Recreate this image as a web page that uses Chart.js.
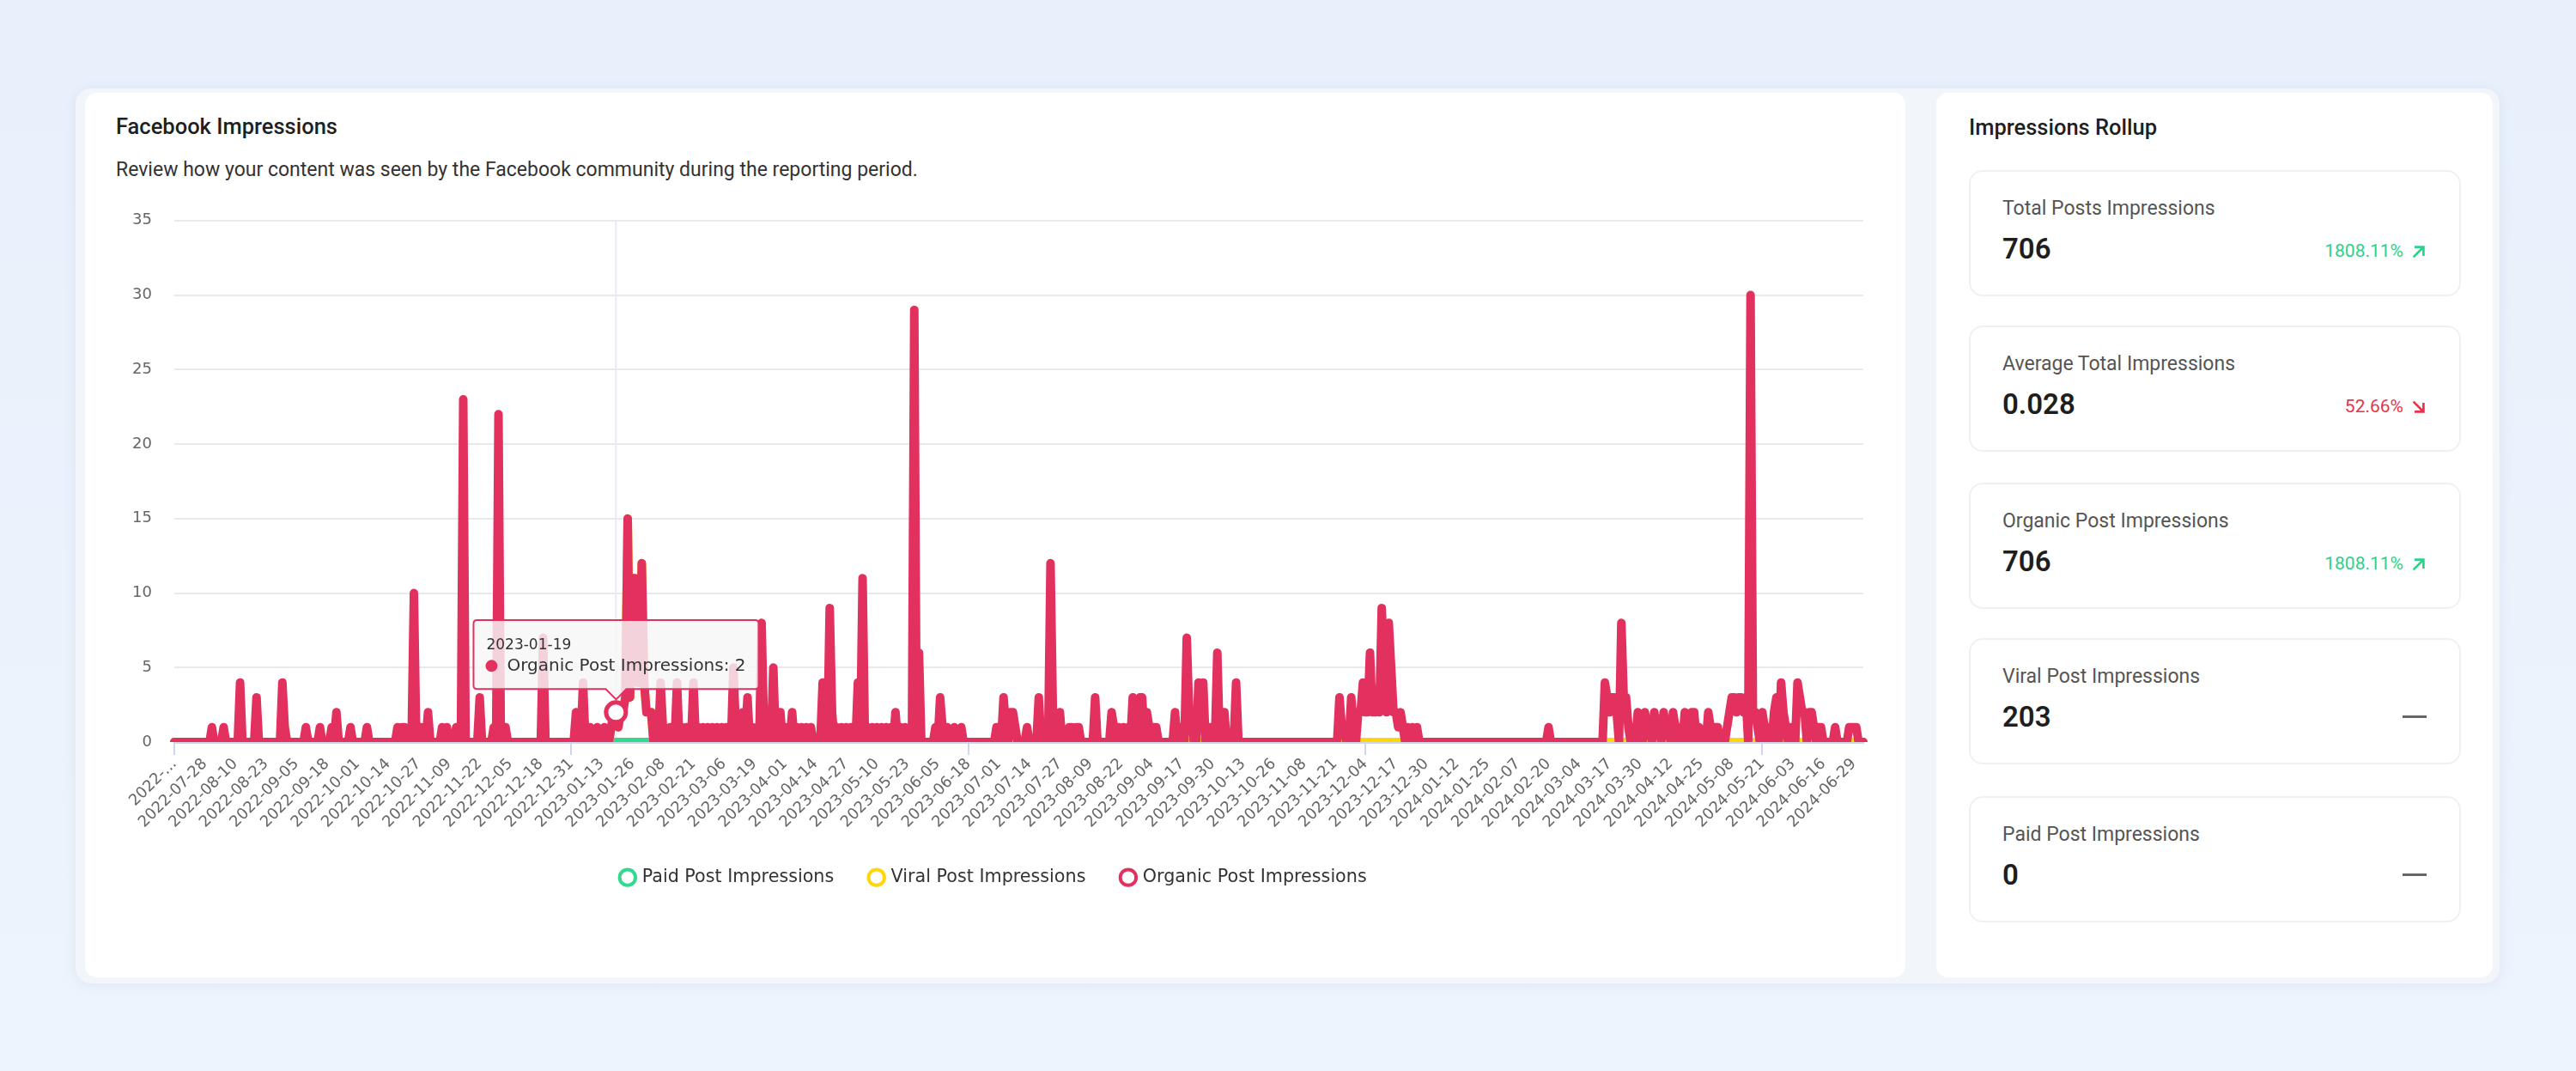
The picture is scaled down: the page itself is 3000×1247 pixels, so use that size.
<!DOCTYPE html>
<html>
<head>
<meta charset="utf-8">
<title>Facebook Impressions</title>
<script src="https://cdn.jsdelivr.net/npm/chart.js@4.4.1/dist/chart.umd.min.js"></script>
<style>
  html, body { margin: 0; padding: 0; }
  body {
    width: 3000px; height: 1247px; position: relative; overflow: hidden;
    background: linear-gradient(180deg, #e8f0fb 0%, #edf4fd 100%);
    font-family: Roboto, "Noto Sans", sans-serif;
  }
  .shell {
    position: absolute; left: 88px; top: 103px; width: 2823px; height: 1042px;
    background: #f2f6fb; border-radius: 18px;
    box-shadow: 0 2px 14px rgba(150, 170, 200, 0.18);
  }
  .card { position: absolute; background: #fff; border-radius: 14px; }
  #mainCard { left: 99px; top: 108px; width: 2120px; height: 1030px; }
  #rollupCard { left: 2255px; top: 108px; width: 648px; height: 1030px; }
  .heading {
    position: absolute; font-size: 25.5px; line-height: 25px; font-weight: 500;
    color: #1f1f1f; white-space: nowrap;
  }
  .subheading {
    position: absolute; left: 135px; top: 186px; font-size: 23px; line-height: 23px;
    color: #333; white-space: nowrap;
  }
  #chartBox { position: absolute; left: 141px; top: 220px; width: 2034px; height: 822px; }
  .stat {
    position: absolute; left: 2293px; width: 573px; height: 147px; box-sizing: border-box;
    border: 2px solid #edf1f6; border-radius: 16px; background: #fff;
  }
  .stat-label {
    position: absolute; left: 37px; top: 31px; font-size: 23px; line-height: 23px;
    color: #555; white-space: nowrap;
  }
  .stat-value {
    position: absolute; left: 37px; top: 73px; font-size: 33px; line-height: 33px;
    font-weight: 600; color: #1e1e1e;
  }
  .stat-change {
    position: absolute; right: 38px; top: 82px; font-size: 21px; line-height: 21px;
    white-space: nowrap; display: flex; align-items: center;
  }
  .stat-change svg { margin-left: 9px; }
  .up { color: #2fd08a; }
  .down { color: #e8344a; }
  .dash { position: absolute; right: 38px; top: 88px; width: 28px; height: 3px; background: #666; }
</style>
</head>
<body>
<div class="shell"></div>
<div class="card" id="mainCard"></div>
<div class="card" id="rollupCard"></div>

<div class="heading" style="left:135px; top:135px;">Facebook Impressions</div>
<div class="subheading">Review how your content was seen by the Facebook community during the reporting period.</div>
<div id="chartBox"><canvas id="impressionsChart"></canvas></div>

<div class="heading" style="left:2293px; top:136px;">Impressions Rollup</div>
<div id="statList"></div>

<script>
// --- Chart data ---

// one label per day, 2022-07-15 .. 2024-07-03
const firstDay = { year: 2022, month: 6, day: 15 };
const dayCount = 720;

// non-zero days only, as day offsets from 2022-07-15 (every other day is 0)
const organicDays = [
    16, 21, 28, 35, 46, 47, 56, 62, 67, 69, 75, 82, 95, 97, 98, 102, 105, 108, 114, 116,
    120, 123, 130, 136, 138, 141, 157, 171, 174, 177, 180, 183, 186, 187, 188, 189, 190, 191, 192, 193,
    194, 195, 196, 197, 198, 199, 200, 201, 202, 203, 207, 208, 211, 214, 216, 218, 221, 223, 225, 227,
    229, 231, 233, 235, 238, 239, 241, 242, 244, 246, 248, 250, 251, 253, 255, 257, 258, 260, 263, 265,
    267, 269, 271, 276, 279, 280, 282, 284, 286, 288, 291, 293, 295, 297, 299, 301, 303, 305, 307, 309,
    311, 313, 315, 317, 324, 326, 327, 329, 332, 335, 350, 351, 353, 354, 356, 357, 358, 363, 368, 373,
    374, 377, 381, 382, 384, 385, 392, 399, 400, 402, 404, 406, 408, 409, 411, 412, 414, 415, 417, 418,
    426, 428, 431, 432, 433, 436, 437, 438, 441, 444, 446, 447, 452, 496, 497, 498, 501, 502, 504, 505,
    506, 507, 508, 509, 510, 511, 512, 513, 514, 515, 516, 517, 518, 519, 520, 521, 522, 523, 525, 527,
    529, 585, 609, 610, 611, 612, 613, 614, 616, 617, 618, 619, 621, 623, 624, 626, 627, 628, 630, 631,
    632, 634, 635, 636, 638, 639, 641, 643, 644, 646, 647, 649, 653, 654, 656, 657, 661, 662, 663, 664,
    665, 666, 667, 668, 669, 671, 672, 673, 674, 676, 677, 679, 681, 682, 684, 685, 686, 688, 691, 692,
    693, 694, 696, 697, 698, 700, 701, 707, 713, 714, 715, 716
];
const organicValues = [
    1, 1, 4, 3, 4, 1, 1, 1, 1, 2, 1, 1, 1, 1, 1, 10, 1, 2, 1, 1,
    1, 23, 3, 1, 22, 1, 7, 2, 4, 1, 1, 1, 1, 2, 2, 1, 2, 2, 3, 15,
    3, 11, 11, 4, 4, 12, 4, 2, 2, 2, 4, 1, 1, 4, 1, 1, 4, 1, 1, 1,
    1, 1, 1, 1, 5, 1, 1, 2, 3, 1, 1, 8, 1, 1, 5, 2, 2, 1, 2, 1,
    1, 1, 1, 4, 9, 2, 1, 1, 1, 1, 4, 11, 1, 1, 1, 1, 1, 1, 2, 1,
    1, 1, 29, 6, 1, 3, 1, 1, 1, 1, 1, 1, 3, 1, 2, 2, 1, 1, 3, 12,
    2, 2, 1, 1, 1, 1, 3, 2, 1, 1, 1, 1, 3, 1, 3, 3, 2, 1, 1, 1,
    2, 1, 7, 2, 2, 4, 1, 4, 1, 6, 2, 2, 4, 3, 1, 1, 3, 1, 2, 2,
    4, 2, 2, 6, 2, 2, 3, 2, 9, 5, 2, 8, 5, 2, 2, 1, 2, 1, 1, 1,
    1, 1, 4, 3, 2, 3, 3, 2, 8, 3, 3, 1, 1, 2, 1, 2, 1, 1, 2, 1,
    1, 2, 1, 1, 2, 1, 1, 2, 1, 2, 2, 1, 2, 1, 1, 1, 1, 2, 3, 3,
    2, 3, 3, 2, 3, 30, 2, 2, 1, 2, 1, 1, 2, 3, 4, 2, 1, 1, 4, 3,
    2, 2, 2, 2, 1, 1, 1, 1, 1, 1, 1, 1
];

const viralDays = [46, 47, 69, 136, 138, 186, 187, 188, 189, 190, 191, 192, 193, 194, 195, 196, 197, 198, 199, 200, 201, 202, 203];
const viralValues = [1, 1, 1, 1, 1, 1, 2, 2, 1, 2, 2, 3, 15, 3, 11, 11, 4, 4, 12, 4, 2, 2, 2];

const paidDays = [];
const paidValues = [];

const seriesNames = ["Paid Post Impressions", "Viral Post Impressions", "Organic Post Impressions"];
const seriesColors = ["#33d98f", "#ffd60a", "#e2305f"];

const yTicks = { min: 0, max: 35, step: 5 };
const labelEvery = 13;
const hoverDay = 188; // 2023-01-19, the point the tooltip sits on

// --- Rollup cards ---

const statLabels = ["Total Posts Impressions", "Average Total Impressions", "Organic Post Impressions", "Viral Post Impressions", "Paid Post Impressions"];
const statValues = ["706", "0.028", "706", "203", "0"];
const statChanges = ["1808.11%", "52.66%", "1808.11%", null, null];
const statTrends = ["up", "down", "up", null, null];

function buildDateLabels() {
    const labels = [];
    for (let i = 0; i < dayCount; i++) {
        const d = new Date(Date.UTC(firstDay.year, firstDay.month, firstDay.day + i));
        labels.push(d.toISOString().slice(0, 10));
    }
    return labels;
}

function dailySeries(days, values) {
    const series = new Array(dayCount).fill(0);
    days.forEach((day, k) => {
        series[day] = values[k];
    });
    return series;
}

function arrowIcon(trend) {
    const path = trend === "up"
        ? "M4 16 L15 5 M6 4 H16 V14"
        : "M4 4 L15 15 M16 6 V16 H6";
    return '<svg width="18" height="18" viewBox="0 0 20 20"><path d="' + path +
        '" fill="none" stroke="currentColor" stroke-width="3" stroke-linecap="square"/></svg>';
}

function renderStats() {
    const list = document.getElementById("statList");
    const tops = [198, 379, 562, 743, 927];
    let html = "";
    statLabels.forEach((label, i) => {
        html += '<div class="stat" style="top:' + tops[i] + 'px">';
        html += '<div class="stat-label">' + label + '</div>';
        html += '<div class="stat-value">' + statValues[i] + '</div>';
        if (statChanges[i]) {
            html += '<div class="stat-change ' + statTrends[i] + '">' + statChanges[i] + arrowIcon(statTrends[i]) + '</div>';
        } else {
            html += '<div class="dash"></div>';
        }
        html += '</div>';
    });
    list.innerHTML = html;
}

// thin vertical guide under the hovered point
const hoverLinePlugin = {
    id: "hoverLine",
    beforeDatasetsDraw(chart) {
        const active = chart.tooltip.getActiveElements();
        if (!active.length) return;
        const x = active[0].element.x;
        const { top, bottom } = chart.chartArea;
        const ctx = chart.ctx;
        ctx.save();
        ctx.strokeStyle = "#e6ebf4";
        ctx.lineWidth = 2;
        ctx.beginPath();
        ctx.moveTo(x, top);
        ctx.lineTo(x, bottom);
        ctx.stroke();
        ctx.restore();
    }
};

function renderChart() {
    const labels = buildDateLabels();
    const seriesData = [
        dailySeries(paidDays, paidValues),
        dailySeries(viralDays, viralValues),
        dailySeries(organicDays, organicValues)
    ];

    Chart.defaults.font.family = "'DejaVu Sans', sans-serif";

    const datasets = seriesNames.map((name, i) => ({
        label: name,
        data: seriesData[i],
        borderColor: seriesColors[i],
        backgroundColor: "#ffffff",
        borderWidth: 10,
        borderJoinStyle: "round",
        borderCapStyle: "round",
        tension: 0,
        fill: false,
        pointRadius: 0,
        pointHoverRadius: 11.5,
        pointHoverBorderWidth: 5,
        pointHoverBackgroundColor: "#ffffff",
        pointHoverBorderColor: seriesColors[i],
        clip: { left: 10, top: 10, right: 10, bottom: 0 },
        order: seriesNames.length - 1 - i // organic drawn on top
    }));

    const ctx = document.getElementById("impressionsChart").getContext("2d");
    const chart = new Chart(ctx, {
        type: "line",
        data: { labels: labels, datasets: datasets },
        options: {
            responsive: true,
            maintainAspectRatio: false,
            animation: false,
            events: [],
            layout: { padding: 0 },
            plugins: {
                legend: {
                    position: "bottom",
                    labels: {
                        usePointStyle: true,
                        boxWidth: 13,
                        boxHeight: 13,
                        padding: 43,
                        color: "#333",
                        font: { size: 20.7 },
                        generateLabels(c) {
                            return c.data.datasets.map((ds, i) => ({
                                text: ds.label,
                                fillStyle: "#ffffff",
                                strokeStyle: ds.borderColor,
                                lineWidth: 4,
                                pointStyle: "circle",
                                hidden: false,
                                datasetIndex: i,
                                fontColor: "#333"
                            }));
                        }
                    }
                },
                tooltip: {
                    enabled: true,
                    backgroundColor: "rgba(246, 246, 246, 0.82)",
                    borderColor: seriesColors[2],
                    borderWidth: 2,
                    titleColor: "#333",
                    bodyColor: "#333",
                    titleFont: { size: 17, weight: "normal" },
                    bodyFont: { size: 20 },
                    titleMarginBottom: 2,
                    padding: { top: 19, bottom: 15, left: 15, right: 15 },
                    caretSize: 12,
                    caretPadding: 15,
                    cornerRadius: 4,
                    usePointStyle: true,
                    boxWidth: 12,
                    boxHeight: 12,
                    boxPadding: 10,
                    yAlign: "bottom",
                    xAlign: "center",
                    callbacks: {
                        labelColor: (item) => ({
                            borderColor: seriesColors[item.datasetIndex],
                            backgroundColor: seriesColors[item.datasetIndex]
                        })
                    }
                }
            },
            scales: {
                x: {
                    grid: {
                        drawOnChartArea: false,
                        drawTicks: true,
                        tickLength: 15,
                        lineWidth: 2,
                        color: (c) => (c.index % labelEvery === 0 ? "#cdd6ea" : "rgba(0,0,0,0)")
                    },
                    border: { color: "#cdd6ea", width: 3 },
                    ticks: {
                        autoSkip: false,
                        minRotation: 45,
                        maxRotation: 45,
                        padding: 0,
                        color: "#666",
                        font: { size: 18 },
                        callback(value, index) {
                            if (index % labelEvery !== 0) return null;
                            const label = this.getLabelForValue(value);
                            // the first label is cut short in the source view
                            return index === 0 ? label.slice(0, 5) + "..." : label;
                        }
                    }
                },
                y: {
                    min: yTicks.min,
                    max: yTicks.max,
                    ticks: { stepSize: yTicks.step, padding: 26, color: "#666", font: { size: 18 } },
                    grid: { color: "#e9e9e9", lineWidth: 2, drawTicks: false },
                    border: { display: false },
                    afterFit(scale) {
                        scale.width = 62;
                    }
                }
            }
        },
        plugins: [hoverLinePlugin]
    });

    // show the tooltip on 2023-01-19, as in the captured view
    const active = [{ datasetIndex: 2, index: hoverDay }];
    const meta = chart.getDatasetMeta(2);
    const point = meta.data[hoverDay];
    chart.setActiveElements(active);
    chart.tooltip.setActiveElements(active, { x: point.x, y: point.y });
    chart.update();
}

document.addEventListener("DOMContentLoaded", () => {
    renderStats();
    renderChart();
});
</script>
</body>
</html>
